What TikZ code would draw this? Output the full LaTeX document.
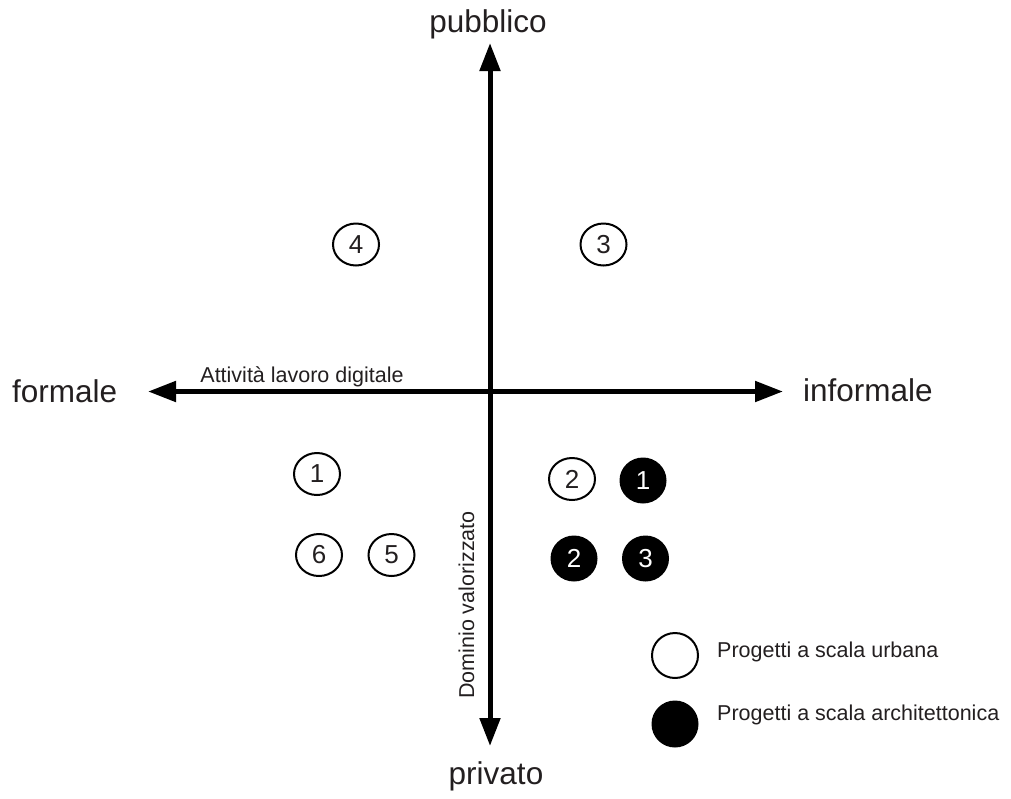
\documentclass[tikz,border=0pt]{standalone}
\usepackage{fontspec}
\setmainfont{Liberation Sans}
\usetikzlibrary{arrows.meta,shapes.geometric}
\definecolor{ink}{RGB}{35,31,32}
\begin{document}
\begin{tikzpicture}[x=1pt,y=-1pt,
  axis/.style={line width=5pt,{Triangle[length=28pt,width=20pt]}-{Triangle[length=28pt,width=20pt]}},
  bigtext/.style={font=\fontsize{31.5}{36}\selectfont,text=ink,inner sep=0pt},
  smalltext/.style={font=\fontsize{21.5}{25}\selectfont,text=ink,inner sep=0pt},
  urban/.style={ellipse,draw=black,line width=2pt,fill=white,minimum width=46pt,minimum height=42pt,inner sep=0pt,font=\fontsize{26}{30}\selectfont,text=ink},
  archi/.style={ellipse,draw=black,line width=2pt,fill=black,minimum width=45pt,minimum height=44pt,inner sep=0pt,font=\fontsize{26}{30}\selectfont,text=white},
  legurban/.style={urban,minimum height=45pt},
  legarchi/.style={archi,minimum height=45pt}]
\useasboundingbox (0,0) rectangle (1011,798);

% axis end points
\coordinate (top) at (490,43);
\coordinate (bot) at (490,746);
\coordinate (left) at (148,391.5);
\coordinate (right) at (783,391.5);

\draw[axis] (bot) -- (top);
\draw[axis] (left) -- (right);

% axis labels
\node[bigtext,anchor=base] (pub) at (488,32) {pubblico};
\node[bigtext,anchor=base] (priv) at (496,784) {privato};
\node[bigtext,anchor=base west] (form) at (12,402) {formale};
\node[bigtext,anchor=base west] (inform) at (803,401) {informale};
\node[smalltext,anchor=base] (att) at (302,382) {Attività lavoro digitale};
\node[smalltext,anchor=base,rotate=90] (dom) at (474,605) {Dominio valorizzato};

% projects
\node[urban] (u4) at (356,244.5) {4};
\node[urban] (u3) at (603.5,244.5) {3};
\node[urban] (u1) at (317,474) {1};
\node[urban] (u6) at (319,555) {6};
\node[urban] (u5) at (391.5,555) {5};
\node[urban] (u2) at (572,479) {2};
\node[archi] (a1) at (643,480.5) {1};
\node[archi] (a2) at (574,558.5) {2};
\node[archi] (a3) at (645.5,558.5) {3};

% legend
\node[legurban] (lu) at (675,655.5) {};
\node[legarchi] (la) at (675,724) {};
\node[smalltext,anchor=base west] (lut) at (717,657) {Progetti a scala urbana};
\node[smalltext,anchor=base west] (lat) at (717,720) {Progetti a scala architettonica};
\end{tikzpicture}
\end{document}
